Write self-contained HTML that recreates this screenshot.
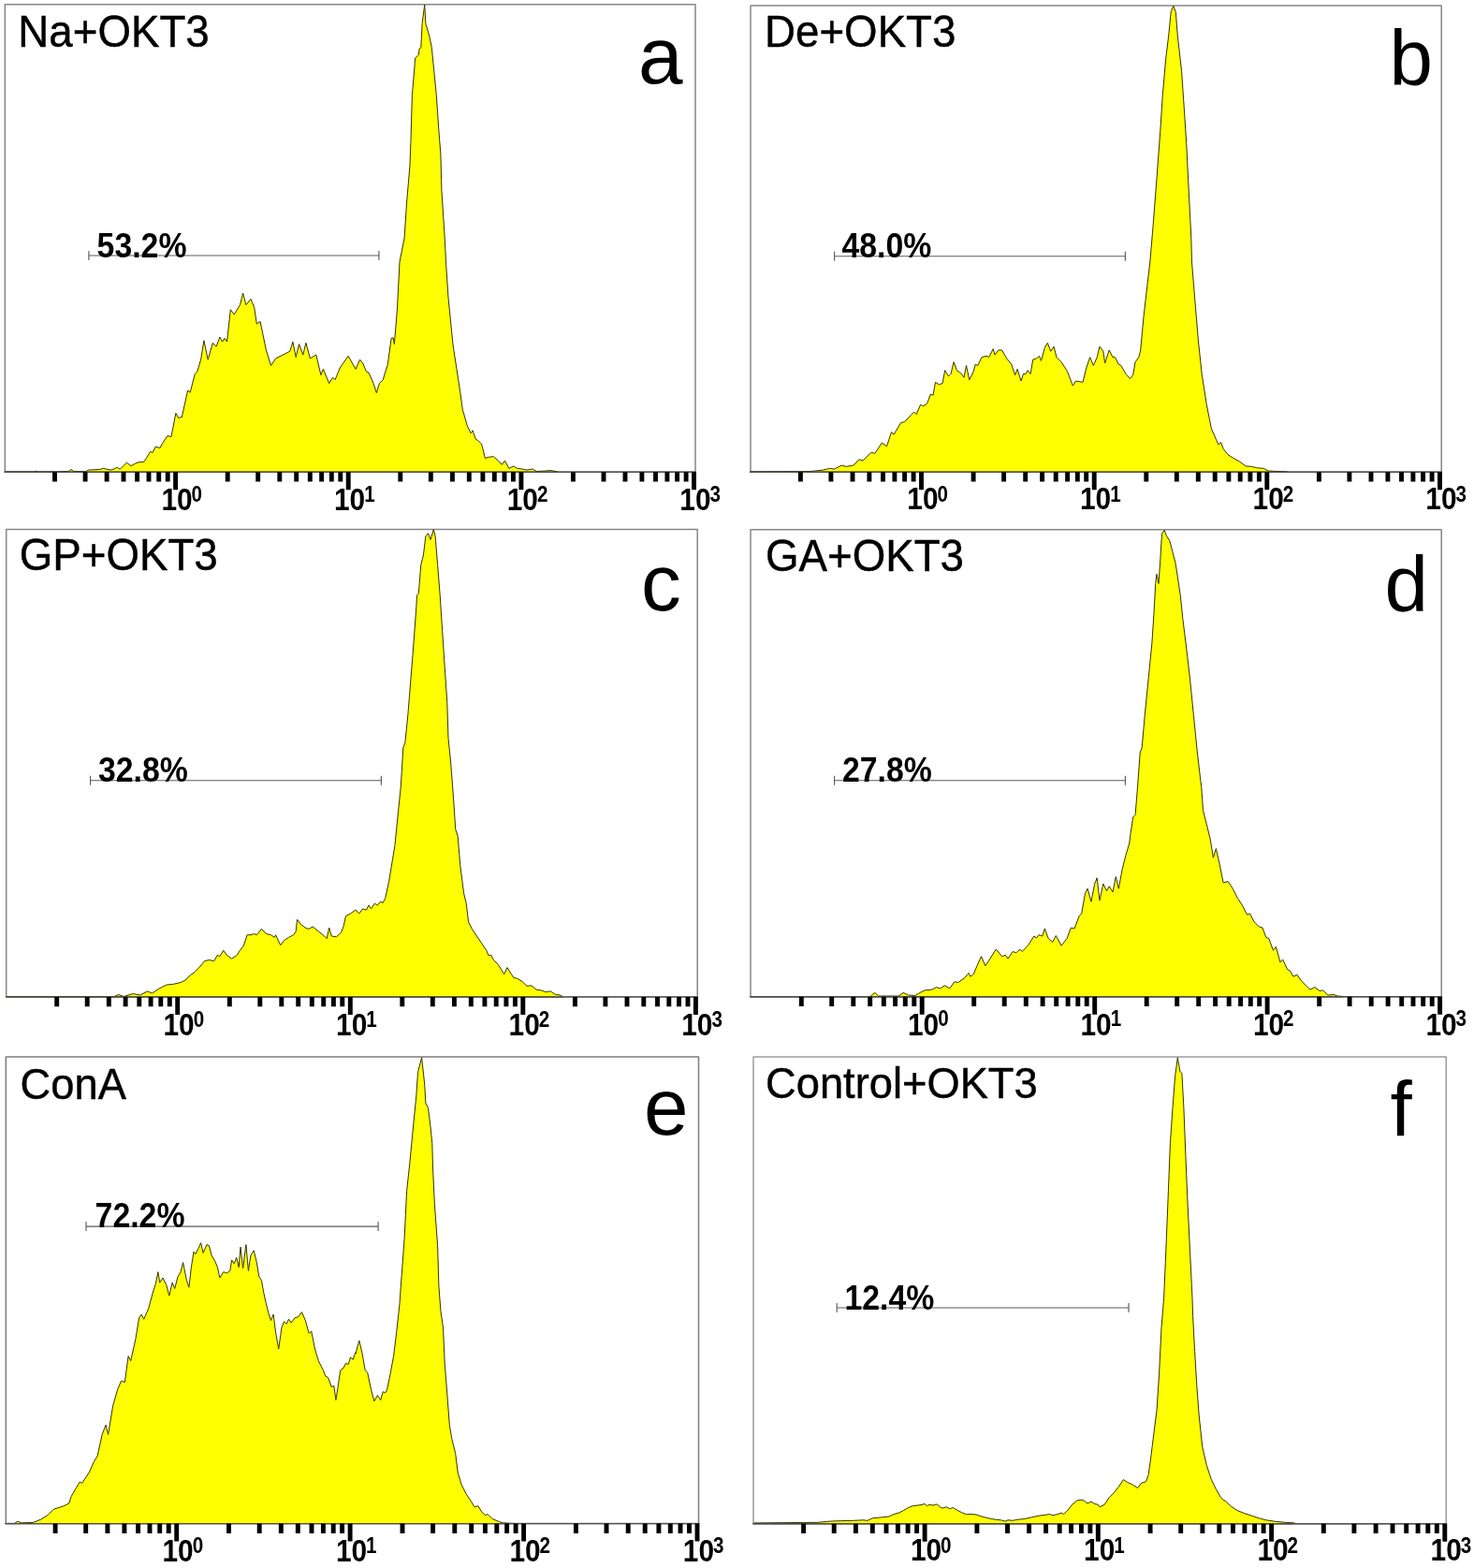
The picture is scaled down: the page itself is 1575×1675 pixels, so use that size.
<!DOCTYPE html>
<html lang="en"><head><meta charset="utf-8"><title>Flow cytometry histograms</title>
<style>html,body{margin:0;padding:0;background:#fff}body{width:1575px;height:1675px;overflow:hidden}svg{display:block}text{font-family:'Liberation Sans', sans-serif;fill:#000}.lab{font-size:47.3px;stroke:#000;stroke-width:0.45px}.let{font-size:85.5px}.pct{font-size:37px;font-weight:bold}.tk{font-size:32.5px;font-weight:bold}.sp{font-size:24px;font-weight:bold}</style>
</head><body>
<svg width="1575" height="1675" viewBox="0 0 1575 1675">
<rect width="1575" height="1675" fill="#fff"/>
<g id="panel-a">
<rect x="5.3" y="4.7" width="737.7" height="499.5" fill="none" stroke="#868686" stroke-width="1.5" stroke-linejoin="round"/>
<path d="M5.4 504.2L5.4 504.1L36 504.1L38.3 503.1L40.6 504.1L54.3 504.1L56.6 503.4L58.9 504.1L73.7 503.4L76 501.4L78.3 503.4L92 503.7L94.3 502L100 501.8L106.9 501.4L110.3 500.3L114.9 501.4L118.3 502L122.9 500.6L125.1 499.1L126.9 500.6L128.6 500.9L132 497.4L135.4 494.2L140 497.7L144.6 495.1L148 493.8L153.7 493.4L157.1 488.3L160.6 482.3L162.9 483.5L166.3 477.1L170.9 478.6L173.7 473.4L179 465.4L182.9 466.7L187.9 441.3L190.5 446.3L194.3 445.6L200.6 417.1L203.2 419.2L208.3 399.4L210.8 396.8L214.6 384.1L217.9 363.8L222.2 384.1L227.3 366.3L231.1 370.2L234.9 360L237.5 365.1L240 361.3L242.5 365.1L246.3 330.8L250.2 335.9L256.5 325.7L259.6 313L262.9 325.7L267.9 319.4L271.7 328.3L274.3 346L278.1 343.5L284.4 374L289.5 390.5L294.6 382.9L304.8 377.8L309.8 375.2L312.9 365.1L316.2 381.6L319.5 367.6L323.8 379L326.9 366.3L331.4 382.9L337.8 379L342.9 400.6L345.4 394.3L351.7 409.5L355.6 403.2L358.1 405.7L363.2 393L372.1 380.3L380 394.3L384.6 384.1L387.6 387.9L391.4 396.8L394 398.1L399 409.5L402.3 419.7L405.4 409.5L409.2 405.7L414.3 389.2L418.1 361.3L420.1 360.8L421.4 367.6L424.4 330.8L427 279.9L432.1 254L434.6 215.9L437.9 177.8L438.9 152.4L440.4 101.6L443 71.1L443.5 62.2L447.3 58.4L448.1 52.1L449.8 50.8L451.1 25.4L453.7 5.1L454.9 25.4L458.7 38.1L461.3 50.8L463.8 76.2L466.3 101.6L468.9 139.7L470.9 165.1L471.9 203.2L475.2 254L476.5 279.9L479 318.1L484.1 368.9L491.7 418.4L494.3 437.5L499.4 455.2L503.2 462.9L505 459.8L508.3 469.2L510.8 470.5L514.6 474.3L518.4 489.5L522.2 488.3L527.3 487.7L532.4 492.1L536.2 496.4L539.5 492.1L543.8 500.4L548.9 497.9L552.7 500.4L557.8 501L562.9 502L569.2 501L573 503.5L583.2 503L588.3 502.5L595.9 504L595.9 504.2Z" fill="#ffff00" stroke="#333300" stroke-width="1" stroke-linejoin="round"/>
<path d="M4.5 504.2H743.8" fill="none" stroke="#505050" stroke-width="1.4"/>
<path d="M58.5 504.2v10.3M91.1 504.2v10.3M114.1 504.2v10.3M132 504.2v10.3M146.6 504.2v10.3M159 504.2v10.3M169.7 504.2v10.3M179.2 504.2v10.3M187.6 504.2v19M243.2 504.2v10.3M275.7 504.2v10.3M298.8 504.2v10.3M316.7 504.2v10.3M331.3 504.2v10.3M343.6 504.2v10.3M354.3 504.2v10.3M363.8 504.2v10.3M372.2 504.2v19M427.8 504.2v10.3M460.3 504.2v10.3M483.4 504.2v10.3M501.3 504.2v10.3M515.9 504.2v10.3M528.3 504.2v10.3M539 504.2v10.3M548.4 504.2v10.3M556.9 504.2v19M612.4 504.2v10.3M645 504.2v10.3M668 504.2v10.3M685.9 504.2v10.3M700.5 504.2v10.3M712.9 504.2v10.3M723.6 504.2v10.3M733.1 504.2v10.3M741.5 504.2v19" fill="none" stroke="#000" stroke-width="4.9"/>
<text class="tk" transform="translate(172.4 544.8) scale(0.92 1)">10</text><text class="sp" transform="translate(204.6 535.8) scale(0.86 1)">0</text>
<text class="tk" transform="translate(357 544.8) scale(0.92 1)">10</text><text class="sp" transform="translate(389.2 535.8) scale(0.86 1)">1</text>
<text class="tk" transform="translate(541.7 544.8) scale(0.92 1)">10</text><text class="sp" transform="translate(573.9 535.8) scale(0.86 1)">2</text>
<text class="tk" transform="translate(726.3 544.8) scale(0.92 1)">10</text><text class="sp" transform="translate(758.5 535.8) scale(0.86 1)">3</text>
<path d="M94.9 273H404.9M94.9 268v10M404.9 268v10" fill="none" stroke="#5c5c5c" stroke-width="1.15"/>
<text class="pct" transform="translate(103.6 274.7) scale(0.914 1)">53.2%</text>
<text class="lab" transform="translate(19.3 49.5) scale(0.966 1)">Na+OKT3</text>
<text class="let" x="682" y="89.4">a</text>
</g>
<g id="panel-b">
<rect x="802" y="5.9" width="738.2" height="498.3" fill="none" stroke="#868686" stroke-width="1.5" stroke-linejoin="round"/>
<path d="M801.4 504.2L801.4 504L866.2 503.5L878.9 502.2L886.5 500.4L891.6 501L899.2 497.1L904.3 498.4L911.9 497.1L918.3 490.8L922.1 492.1L931 483.2L934.8 484.4L942.4 473L947.5 476.8L952.5 461.6L955.1 464.1L962.7 451.4L966.5 450.7L972.9 443.8L976.7 440L979.2 442.5L983.5 432.4L986.8 433.7L990.6 431.1L994.4 421L997 422.2L999.5 408.3L1003.3 410.8L1007.1 409.5L1009.7 395.6L1013.5 401.9L1016 399.4L1019.1 386.7L1022.4 395.6L1027.5 399.4L1030 403.2L1032.5 390.5L1035.8 405.7L1040.2 396.8L1042.2 389.2L1044.7 390.5L1049 381.6L1054.1 380.3L1056.7 381.6L1061.2 372.7L1063 379L1066.8 374L1070.6 374L1075.7 382.9L1080.8 389.2L1084.6 400.6L1087.1 394.3L1091 407L1093.5 399.4L1096 399.4L1098.1 395.6L1101.1 399.4L1103.7 384.1L1107.5 382.9L1110.5 380.3L1112.5 385.4L1116.3 371.4L1119.4 366.3L1122.7 375.2L1126 370.2L1129 381.6L1134.1 386.7L1140.5 396.8L1146.3 412.1L1149.4 407L1157 408.3L1160.8 393L1164.6 381.6L1168.4 390.5L1172.2 381.6L1175 370.2L1178.8 375.2L1180.6 387.9L1185.2 374L1189 381.6L1191.5 381.6L1195.3 389.2L1197.9 390.5L1202.9 399.4L1207.5 404.4L1210.6 400.6L1213.1 386.7L1216.9 381.6L1218.7 374L1222 338.4L1225.8 305.4L1228.8 279.9L1232.1 241.3L1236 190.5L1239.8 139.7L1242.3 101.6L1245.6 63.5L1248.7 38.1L1251.2 12.7L1253.7 6.3L1256.3 12.7L1258.3 38.1L1262.6 76.2L1265.2 114.3L1267.7 152.4L1270.2 203.2L1272.8 254L1273.5 279.9L1276.6 318.1L1280.4 363.8L1284.2 399.4L1289.3 432.4L1294.4 457.8L1299.4 469.2L1302 475L1304.5 472.5L1307.1 479.4L1312.1 485.7L1317.2 489L1324.8 493.3L1331.2 497.9L1337.5 498.4L1342.6 499.7L1350.2 500.4L1355.3 503L1375.6 504L1375.6 504.2Z" fill="#ffff00" stroke="#333300" stroke-width="1" stroke-linejoin="round"/>
<path d="M801.2 504.2H1541" fill="none" stroke="#505050" stroke-width="1.4"/>
<path d="M855.4 504.2v10.3M887.9 504.2v10.3M911 504.2v10.3M928.9 504.2v10.3M943.5 504.2v10.3M955.9 504.2v10.3M966.6 504.2v10.3M976.1 504.2v10.3M984.5 504.2v19M1040.1 504.2v10.3M1072.6 504.2v10.3M1095.7 504.2v10.3M1113.6 504.2v10.3M1128.2 504.2v10.3M1140.6 504.2v10.3M1151.3 504.2v10.3M1160.7 504.2v10.3M1169.2 504.2v19M1224.8 504.2v10.3M1257.3 504.2v10.3M1280.3 504.2v10.3M1298.2 504.2v10.3M1312.9 504.2v10.3M1325.2 504.2v10.3M1335.9 504.2v10.3M1345.4 504.2v10.3M1353.8 504.2v19M1409.4 504.2v10.3M1441.9 504.2v10.3M1465 504.2v10.3M1482.9 504.2v10.3M1497.5 504.2v10.3M1509.9 504.2v10.3M1520.6 504.2v10.3M1530.1 504.2v10.3M1538.5 504.2v19" fill="none" stroke="#000" stroke-width="4.9"/>
<text class="tk" transform="translate(969.3 544.3) scale(0.92 1)">10</text><text class="sp" transform="translate(1001.5 535.8) scale(0.86 1)">0</text>
<text class="tk" transform="translate(1154 544.3) scale(0.92 1)">10</text><text class="sp" transform="translate(1186.2 535.8) scale(0.86 1)">1</text>
<text class="tk" transform="translate(1338.6 544.3) scale(0.92 1)">10</text><text class="sp" transform="translate(1370.8 535.8) scale(0.86 1)">2</text>
<text class="tk" transform="translate(1523.3 544.3) scale(0.92 1)">10</text><text class="sp" transform="translate(1555.5 535.8) scale(0.86 1)">3</text>
<path d="M891.6 273.7H1202.4M891.6 268.7v10M1202.4 268.7v10" fill="none" stroke="#5c5c5c" stroke-width="1.15"/>
<text class="pct" transform="translate(899.5 274.7) scale(0.914 1)">48.0%</text>
<text class="lab" transform="translate(817 50.2) scale(0.966 1)">De+OKT3</text>
<text class="let" x="1484.5" y="90.9" style="font-size:83.5px">b</text>
</g>
<g id="panel-c">
<rect x="6.7" y="565.5" width="738.5" height="499.4" fill="none" stroke="#868686" stroke-width="1.5" stroke-linejoin="round"/>
<path d="M7.1 1064.9L7.1 1064.5L121.9 1064.5L127 1062.5L132.1 1064.5L142.2 1061.5L149.8 1063L157.5 1058.9L162.5 1061L170.2 1055.9L177.8 1052.1L185.4 1051.3L193 1049.5L198.1 1047L203.2 1041.9L208.3 1038.1L213.3 1033L218.4 1026.7L223.5 1025.4L228.6 1026.7L232.4 1020.3L234.9 1021.6L238.7 1015.2L242.5 1020.3L247.6 1024.1L252.7 1020.8L256.5 1015.2L260.3 1010.2L264.1 998.7L267.9 998.7L271.7 997.5L274.3 998.7L279.4 992.4L284.4 997.5L289.5 998.7L293.3 1001.3L294.6 998.7L299.7 1009.7L303.5 1004.6L308.6 1001.3L313.7 998.7L316.2 994.9L317.5 982.2L321.3 987.3L326.3 991.1L330.2 992.4L334 989.8L340.3 994.9L346.7 1000L349.2 1002.5L351.7 991.1L354.3 1000L359.4 1000.8L364.4 996.2L367 989.8L369.5 978.4L374.6 975.9L379.7 972.1L380 972.1L383.8 975.9L387.6 970.8L391.4 972.1L394 967L396.5 970.8L400.3 965L402.9 967L406.7 963.2L409.2 964.4L411.7 959.4L415.6 941.6L418.1 926.3L421.9 903.5L425.7 865.4L428.3 839.9L430.8 798.7L432.8 793.7L435.9 763.2L441 699.7L444.8 648.9L445.5 636.2L447.3 633.7L449.8 603.2L452.4 593L454.9 572.7L457.5 569.7L460 576.5L463.3 565.6L465.1 572.7L467.6 603.2L470.2 636.2L472.7 674.3L475.2 712.4L477.8 750.5L479 788.6L481.6 814L483.6 839.9L485.4 865.4L486.7 885.7L489.2 893.3L491.7 923.8L495.6 954.3L498.1 964.4L500.6 984.8L504.4 992.4L509.5 1000L514.6 1007.6L519.7 1015.2L522.2 1020.8L524.8 1020.3L527.3 1025.4L532.4 1030.5L538.7 1040.6L542 1033.5L546.3 1040.6L548.9 1044.4L552.7 1045.2L557.8 1048.3L562.9 1053.3L567.9 1052.8L573 1057.1L578.1 1057.9L583.2 1059.7L588.3 1058.9L593.3 1062.2L598.4 1063L601 1064.5L601 1064.9Z" fill="#ffff00" stroke="#333300" stroke-width="1" stroke-linejoin="round"/>
<path d="M5.9 1064.9H746" fill="none" stroke="#505050" stroke-width="1.4"/>
<path d="M60.7 1064.9v10.3M93.2 1064.9v10.3M116.3 1064.9v10.3M134.1 1064.9v10.3M148.8 1064.9v10.3M161.1 1064.9v10.3M171.8 1064.9v10.3M181.3 1064.9v10.3M189.7 1064.9v19M245.3 1064.9v10.3M277.8 1064.9v10.3M300.8 1064.9v10.3M318.7 1064.9v10.3M333.3 1064.9v10.3M345.7 1064.9v10.3M356.4 1064.9v10.3M365.8 1064.9v10.3M374.3 1064.9v19M429.8 1064.9v10.3M462.3 1064.9v10.3M485.4 1064.9v10.3M503.3 1064.9v10.3M517.9 1064.9v10.3M530.2 1064.9v10.3M540.9 1064.9v10.3M550.4 1064.9v10.3M558.8 1064.9v19M614.4 1064.9v10.3M646.9 1064.9v10.3M670 1064.9v10.3M687.8 1064.9v10.3M702.5 1064.9v10.3M714.8 1064.9v10.3M725.5 1064.9v10.3M735 1064.9v10.3M743.4 1064.9v19" fill="none" stroke="#000" stroke-width="4.9"/>
<text class="tk" transform="translate(174.5 1105.8) scale(0.92 1)">10</text><text class="sp" transform="translate(206.7 1096.5) scale(0.86 1)">0</text>
<text class="tk" transform="translate(359.1 1105.8) scale(0.92 1)">10</text><text class="sp" transform="translate(391.3 1096.5) scale(0.86 1)">1</text>
<text class="tk" transform="translate(543.6 1105.8) scale(0.92 1)">10</text><text class="sp" transform="translate(575.8 1096.5) scale(0.86 1)">2</text>
<text class="tk" transform="translate(728.2 1105.8) scale(0.92 1)">10</text><text class="sp" transform="translate(760.4 1096.5) scale(0.86 1)">3</text>
<path d="M96.6 833.7H407.4M96.6 828.7v10M407.4 828.7v10" fill="none" stroke="#5c5c5c" stroke-width="1.15"/>
<text class="pct" transform="translate(105 835.1) scale(0.914 1)">32.8%</text>
<text class="lab" transform="translate(20.7 608.9) scale(0.966 1)">GP+OKT3</text>
<text class="let" x="685" y="651.6">c</text>
</g>
<g id="panel-d">
<rect x="802" y="565.7" width="738.2" height="499.1" fill="none" stroke="#868686" stroke-width="1.5" stroke-linejoin="round"/>
<path d="M801.4 1064.8L801.4 1064.5L929.7 1064.5L934.8 1060.4L938.6 1064L960.2 1064L965.2 1060.4L970.3 1063L977.9 1063.5L983 1060.4L988.1 1057.9L995.7 1057.1L1000.8 1054.6L1004.6 1055.9L1009.7 1052.8L1014.8 1055.9L1019.8 1048.8L1023.7 1049.5L1030 1045.2L1035.1 1039.4L1036.9 1043.2L1040.2 1040.6L1044 1031.7L1048.5 1021.6L1052.9 1031.7L1057.9 1024.1L1064.3 1014L1070.6 1021.6L1074.4 1020.3L1077 1024.1L1082.1 1016.5L1085.9 1017.8L1089.7 1014L1092.2 1016.5L1098.6 1009.7L1104.9 1000L1107.5 1002L1110 998.7L1113.8 1000L1116.3 991.9L1120.2 1002.5L1124.7 1006.3L1128.3 999.5L1134.1 1010.2L1140 1002.5L1144.3 991.1L1148.1 991.9L1153.2 978.4L1155.7 975.9L1159.5 954.3L1162.1 949.2L1165.9 963.2L1169.7 944.1L1172.2 937.8L1175 961.9L1178.8 944.1L1182.6 951.7L1185.2 946.7L1189 953L1192.3 936.5L1195.3 949.2L1199.1 928.9L1202.9 913.7L1206.7 901L1208 890.8L1210.6 873L1213.1 870.5L1215.6 839.9L1218.2 803.8L1220.2 798.7L1223.3 763.2L1227.1 725.1L1230.9 687L1232.9 656.5L1234.7 623.5L1236 613.3L1238 623.5L1239.8 598.1L1241.5 570.2L1244.1 566.3L1246.6 572.7L1249.9 577.8L1252.5 587.9L1255.8 600.6L1257.5 610.8L1261.3 636.2L1263.9 661.6L1267.7 692.1L1271.5 725.1L1275.3 763.2L1279.1 801.3L1282.9 834.3L1283.7 839.9L1285.5 865.4L1289.3 880.6L1293.1 895.9L1296.4 916.2L1299.4 906.5L1303.3 923.8L1307.1 942.9L1312.1 941.6L1317.2 949.2L1322.3 959.4L1327.4 967L1332.5 977.1L1335.5 975.9L1340.1 984.8L1345.2 989.8L1349 991.1L1352.8 1001.3L1355.8 1002.5L1360.4 1015.2L1363.4 1011.4L1368 1027.9L1370.6 1024.9L1375.6 1035.6L1378.2 1036.8L1382 1043.2L1385.8 1041.1L1390.9 1048.3L1396 1053.3L1399.8 1057.1L1404.8 1054.6L1409.9 1058.4L1413.7 1057.9L1418.8 1063L1425.2 1062.5L1429 1064L1436.6 1064.5L1436.6 1064.8Z" fill="#ffff00" stroke="#333300" stroke-width="1" stroke-linejoin="round"/>
<path d="M801.2 1064.8H1541" fill="none" stroke="#505050" stroke-width="1.4"/>
<path d="M856.3 1064.8v10.3M888.7 1064.8v10.3M911.8 1064.8v10.3M929.7 1064.8v10.3M944.3 1064.8v10.3M956.6 1064.8v10.3M967.3 1064.8v10.3M976.8 1064.8v10.3M985.2 1064.8v19M1040.7 1064.8v10.3M1073.2 1064.8v10.3M1096.3 1064.8v10.3M1114.1 1064.8v10.3M1128.7 1064.8v10.3M1141.1 1064.8v10.3M1151.8 1064.8v10.3M1161.2 1064.8v10.3M1169.7 1064.8v19M1225.2 1064.8v10.3M1257.7 1064.8v10.3M1280.7 1064.8v10.3M1298.6 1064.8v10.3M1313.2 1064.8v10.3M1325.6 1064.8v10.3M1336.3 1064.8v10.3M1345.7 1064.8v10.3M1354.1 1064.8v19M1409.7 1064.8v10.3M1442.1 1064.8v10.3M1465.2 1064.8v10.3M1483.1 1064.8v10.3M1497.7 1064.8v10.3M1510 1064.8v10.3M1520.7 1064.8v10.3M1530.2 1064.8v10.3M1538.6 1064.8v19" fill="none" stroke="#000" stroke-width="4.9"/>
<text class="tk" transform="translate(970 1105.8) scale(0.92 1)">10</text><text class="sp" transform="translate(1002.2 1096.4) scale(0.86 1)">0</text>
<text class="tk" transform="translate(1154.5 1105.8) scale(0.92 1)">10</text><text class="sp" transform="translate(1186.7 1096.4) scale(0.86 1)">1</text>
<text class="tk" transform="translate(1338.9 1105.8) scale(0.92 1)">10</text><text class="sp" transform="translate(1371.1 1096.4) scale(0.86 1)">2</text>
<text class="tk" transform="translate(1523.4 1105.8) scale(0.92 1)">10</text><text class="sp" transform="translate(1555.6 1096.4) scale(0.86 1)">3</text>
<path d="M891.6 833.7H1202.4M891.6 828.7v10M1202.4 828.7v10" fill="none" stroke="#5c5c5c" stroke-width="1.15"/>
<text class="pct" transform="translate(900 835.1) scale(0.914 1)">27.8%</text>
<text class="lab" transform="translate(818 610) scale(0.966 1)">GA+OKT3</text>
<text class="let" x="1479.6" y="652.7" style="font-size:83.5px">d</text>
</g>
<g id="panel-e">
<rect x="6.3" y="1129" width="740.2" height="498.6" fill="none" stroke="#7c7c7c" stroke-width="1.5" stroke-linejoin="round"/>
<path d="M5.6 1627.6L5.6 1627.6L15.2 1627.6L19 1625.1L22.9 1626.9L35.6 1626.3L43.2 1623.3L50.8 1618.7L57.1 1612.4L62.2 1610.6L67.3 1609.1L73.7 1606L76.2 1598.4L81.3 1589.5L85.1 1583.2L87.6 1584.4L95.2 1573L100.3 1561.6L104.1 1555.2L109.2 1532.4L113 1522.2L115.6 1532.4L120.6 1501.9L125.7 1484.1L129.5 1475.2L133.3 1476.5L137.1 1448.6L139.7 1453.7L144.8 1430.8L148.6 1407.9L151.1 1404.1L153.7 1409.2L158.7 1397.8L163.8 1379L166.3 1371.4L168.9 1358.7L170.7 1370.2L174 1365.1L177.8 1372.7L180.8 1384.1L184.1 1370.2L186.7 1376.5L190 1363.8L193 1358.7L195.6 1348.6L199.4 1367.6L201.9 1375.2L204.4 1353.7L207 1337.1L208.8 1339.7L212.1 1333.3L214.6 1327.7L217.1 1338.4L221 1329.5L223.5 1330.8L226 1341L229.8 1347.3L232.4 1353.7L234.9 1365.1L238.7 1358.7L242.5 1360L245.8 1357.5L247.6 1346L250.2 1349.8L252.7 1343.5L255.2 1353.7L257 1332.1L259.6 1354.9L262.9 1329.5L265.4 1357.5L267.9 1341L271.2 1335.9L274.3 1348.6L276.8 1363.8L279.4 1367.6L281.9 1381.6L284.4 1392.7L287 1402.9L289.5 1410.5L292.1 1404.1L294.6 1423.2L297.7 1441L301 1418.1L303.5 1411.7L306 1414.3L308.6 1409.2L311.1 1413L314.9 1407.9L318.7 1406.7L322.5 1401.6L326.3 1410.5L330.2 1424.4L332.7 1421.9L336.5 1441L340.3 1453.7L345.4 1463.8L347.9 1470.2L350.5 1471.4L354.3 1481.6L356.8 1480.3L358.9 1495.6L361.1 1481.6L363.7 1463.8L367 1461.3L369.5 1456.2L372.1 1457.5L374.6 1449.8L377.1 1452.4L379.7 1444.8L380 1446L383.8 1432.1L387.1 1446L390.2 1463.8L392.7 1466.3L396.5 1484.1L399.8 1496.8L403.4 1490.5L406.7 1495.6L409.2 1486.7L411.7 1487.9L413.5 1484.6L416.8 1468.9L420.6 1448.6L423.7 1423.2L427 1392.7L428.3 1374L432.1 1323.2L434.6 1272.4L437.9 1241.9L441 1208.9L444.8 1170.8L446.5 1145.4L450.6 1129.7L453.7 1158.1L454.9 1178.4L457.5 1183.5L460 1203.8L461.8 1221.6L462.5 1247L464.3 1285.1L467.6 1330.8L468.9 1374L470.9 1400.3L473.5 1418.1L475.2 1456.2L477.8 1489.2L480.3 1522.2L482.9 1537.5L486.7 1552.7L489.2 1573L493 1585.7L498.1 1595.9L503.2 1603.5L507 1609.8L510.8 1608.6L514.6 1614.9L518.4 1618.7L521 1617.5L526 1622.5L532.4 1625.1L537.5 1626.9L552.7 1627.6L552.7 1627.6Z" fill="#ffff00" stroke="#333300" stroke-width="1" stroke-linejoin="round"/>
<path d="M5.5 1627.6H747.3" fill="none" stroke="#505050" stroke-width="1.4"/>
<path d="M59.1 1627.6v10.3M91.7 1627.6v10.3M114.9 1627.6v10.3M132.9 1627.6v10.3M147.6 1627.6v10.3M160 1627.6v10.3M170.7 1627.6v10.3M180.2 1627.6v10.3M188.7 1627.6v19M244.5 1627.6v10.3M277.2 1627.6v10.3M300.3 1627.6v10.3M318.3 1627.6v10.3M333 1627.6v10.3M345.4 1627.6v10.3M356.2 1627.6v10.3M365.6 1627.6v10.3M374.1 1627.6v19M430 1627.6v10.3M462.6 1627.6v10.3M485.8 1627.6v10.3M503.7 1627.6v10.3M518.4 1627.6v10.3M530.8 1627.6v10.3M541.6 1627.6v10.3M551.1 1627.6v10.3M559.6 1627.6v19M615.4 1627.6v10.3M648 1627.6v10.3M671.2 1627.6v10.3M689.2 1627.6v10.3M703.9 1627.6v10.3M716.3 1627.6v10.3M727 1627.6v10.3M736.5 1627.6v10.3M745 1627.6v19" fill="none" stroke="#000" stroke-width="4.9"/>
<text class="tk" transform="translate(173.5 1668.2) scale(0.92 1)">10</text><text class="sp" transform="translate(205.7 1659.2) scale(0.86 1)">0</text>
<text class="tk" transform="translate(358.9 1668.2) scale(0.92 1)">10</text><text class="sp" transform="translate(391.1 1659.2) scale(0.86 1)">1</text>
<text class="tk" transform="translate(544.4 1668.2) scale(0.92 1)">10</text><text class="sp" transform="translate(576.6 1659.2) scale(0.86 1)">2</text>
<text class="tk" transform="translate(729.8 1668.2) scale(0.92 1)">10</text><text class="sp" transform="translate(762 1659.2) scale(0.86 1)">3</text>
<path d="M92 1310.1H404.1M92 1305.1v10M404.1 1305.1v10" fill="none" stroke="#5c5c5c" stroke-width="1.15"/>
<text class="pct" transform="translate(101.6 1311.3) scale(0.914 1)">72.2%</text>
<text class="lab" style="font-size:46.6px" transform="translate(21.6 1173.9) scale(0.972 1)">ConA</text>
<text class="let" x="688" y="1212.1">e</text>
</g>
<g id="panel-f">
<rect x="805" y="1128.9" width="740.2" height="498.8" fill="none" stroke="#9c9c9c" stroke-width="1.5" stroke-linejoin="round"/>
<path d="M805.7 1627.7L805.7 1626.9L873.8 1626.3L886.5 1625.1L899.2 1624.6L911.9 1624.3L922.1 1623.8L927.1 1624.3L932.2 1621.8L942.4 1620.8L950 1620L955.1 1617.5L960.2 1616.2L965.2 1613.7L970.3 1610.6L975.4 1608.6L983 1607.8L988.1 1606.5L990.6 1608.6L993.2 1607.3L997 1608.1L1000.8 1606.8L1004.6 1609.8L1007.1 1611.1L1011 1609.8L1014.8 1611.6L1018.6 1610.6L1022.4 1613.1L1027.5 1615.7L1032.5 1617.7L1038.9 1617.5L1044 1618.2L1049 1620L1054.1 1621.3L1059.2 1622.5L1064.3 1623.3L1069.4 1623.8L1074.4 1625.1L1077 1623.8L1082.1 1624.3L1087.1 1623.3L1094.8 1622.5L1102.4 1620.8L1110 1619.2L1117.6 1618.2L1121.4 1617.5L1125.2 1618.7L1130.3 1617.5L1134.1 1616.2L1136.7 1617.5L1140.5 1613.7L1145.6 1607.3L1150.6 1603L1155.7 1602.2L1158.3 1603L1162.1 1606L1165.9 1604L1169.7 1606.5L1173.5 1607.3L1175 1609.8L1180.1 1607.3L1185.2 1599.7L1190.2 1594.6L1195.3 1588.3L1200.4 1580.6L1204.2 1583.2L1210.6 1586.2L1215.6 1589.5L1219.4 1584.4L1224.5 1582.7L1227.1 1575.6L1229.6 1557.8L1232.1 1537.5L1236 1507L1238.5 1468.9L1241 1418.1L1243.6 1386.7L1245.3 1348.6L1247.9 1285.1L1250.4 1221.6L1253 1183.5L1255.5 1150.5L1258.3 1129.7L1260.8 1144.1L1262.9 1146.7L1264.9 1183.5L1266.9 1234.3L1269 1285.1L1271.5 1335.9L1274 1386.7L1274.6 1405.4L1276.6 1443.5L1278.9 1481.6L1281.2 1512.1L1284.7 1545.1L1289.3 1565.4L1294.4 1580.6L1299.4 1590.8L1304.5 1599.7L1307.1 1602.2L1309.6 1603.5L1314.7 1608.6L1322.3 1613.7L1329.9 1616.7L1337.5 1619.2L1345.2 1621.8L1352.8 1623.8L1362.9 1625.3L1373.1 1626.3L1383.3 1626.9L1383.3 1627.7Z" fill="#ffff00" stroke="#333300" stroke-width="1" stroke-linejoin="round"/>
<path d="M804.2 1627.7H1546" fill="none" stroke="#505050" stroke-width="1.4"/>
<path d="M858.6 1627.7v10.3M891.2 1627.7v10.3M914.4 1627.7v10.3M932.3 1627.7v10.3M947 1627.7v10.3M959.4 1627.7v10.3M970.1 1627.7v10.3M979.6 1627.7v10.3M988.1 1627.7v19M1043.9 1627.7v10.3M1076.5 1627.7v10.3M1099.6 1627.7v10.3M1117.6 1627.7v10.3M1132.2 1627.7v10.3M1144.6 1627.7v10.3M1155.4 1627.7v10.3M1164.9 1627.7v10.3M1173.3 1627.7v19M1229.1 1627.7v10.3M1261.7 1627.7v10.3M1284.9 1627.7v10.3M1302.8 1627.7v10.3M1317.5 1627.7v10.3M1329.9 1627.7v10.3M1340.6 1627.7v10.3M1350.1 1627.7v10.3M1358.6 1627.7v19M1414.3 1627.7v10.3M1446.9 1627.7v10.3M1470.1 1627.7v10.3M1488 1627.7v10.3M1502.7 1627.7v10.3M1515.1 1627.7v10.3M1525.8 1627.7v10.3M1535.3 1627.7v10.3M1543.8 1627.7v19" fill="none" stroke="#000" stroke-width="4.9"/>
<text class="tk" transform="translate(972.9 1667.2) scale(0.92 1)">10</text><text class="sp" transform="translate(1005.1 1658.7) scale(0.86 1)">0</text>
<text class="tk" transform="translate(1158.1 1667.2) scale(0.92 1)">10</text><text class="sp" transform="translate(1190.3 1658.7) scale(0.86 1)">1</text>
<text class="tk" transform="translate(1343.4 1667.2) scale(0.92 1)">10</text><text class="sp" transform="translate(1375.6 1658.7) scale(0.86 1)">2</text>
<text class="tk" transform="translate(1528.6 1667.2) scale(0.92 1)">10</text><text class="sp" transform="translate(1560.8 1658.7) scale(0.86 1)">3</text>
<path d="M894.2 1397H1206M894.2 1392v10M1206 1392v10" fill="none" stroke="#5c5c5c" stroke-width="1.15"/>
<text class="pct" transform="translate(902.5 1398.5) scale(0.914 1)">12.4%</text>
<text class="lab" style="font-size:46.6px" transform="translate(818 1173.4) scale(0.972 1)">Control+OKT3</text>
<text class="let" x="1485.5" y="1213.7" style="font-size:83.5px">f</text>
</g>
</svg>
</body></html>
